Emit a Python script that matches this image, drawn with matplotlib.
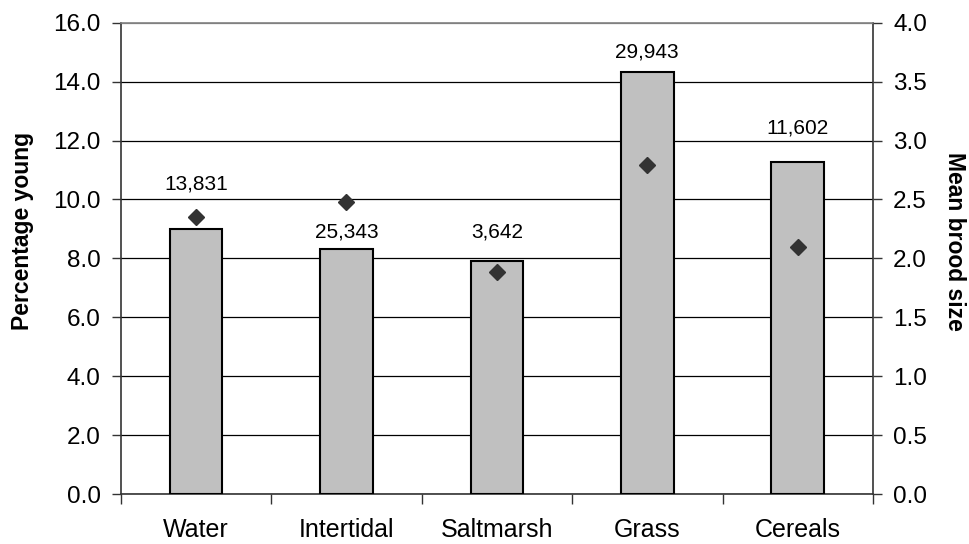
import matplotlib
matplotlib.use("Agg")
import matplotlib.pyplot as plt
import numpy as np

categories = ["Water", "Intertidal", "Saltmarsh", "Grass", "Cereals"]
pct_young = [9.0, 8.33, 7.91, 14.31, 11.28]
brood_size = [2.35, 2.48, 1.88, 2.79, 2.10]
sample_labels = ["13,831", "25,343", "3,642", "29,943", "11,602"]
# label offset above bar top (left-axis units), as placed in the original
label_offsets = [1.52, 0.56, 0.98, 0.69, 1.14]

plt.rcParams['font.family'] = ['Liberation Sans', 'DejaVu Sans']

fig = plt.figure(figsize=(9.7, 5.44), dpi=100)
ax = fig.add_axes([0.1244, 0.0919, 0.9 - 0.1244, 0.9583 - 0.0919])
x = np.arange(len(categories))

ax.bar(x, pct_young, width=0.35, color="#C0C0C0", edgecolor="black", linewidth=1.5, zorder=3)
ax.set_xlim(-0.5, len(categories) - 0.5)
ax.set_ylim(0, 16)
lt = np.arange(0, 16.01, 2)
ax.set_yticks(lt)
ax.set_yticklabels([f"{v:.1f}" for v in lt], fontsize=17.5)
ax.yaxis.grid(True, color="black", linewidth=0.9, zorder=0)
ax.set_axisbelow(True)
gls = ax.get_ygridlines()
gls[-1].set_color("#808080")

ax.set_xticks(x)
ax.set_xticklabels(categories, fontsize=18)
ax.set_xticks(np.arange(-0.5, len(categories)), minor=True)
ax.tick_params(axis="x", which="major", length=0, pad=17)
ax.tick_params(axis="x", which="minor", length=7, width=1, color="#333333")
ax.tick_params(axis="y", length=6.5, width=1, pad=8, color="#333333")
ax.spines["top"].set_color("#808080")
ax.spines["top"].set_linewidth(1.2)
for s in ["left", "bottom", "right"]:
    ax.spines[s].set_color("#333333")
    ax.spines[s].set_linewidth(1.2)
ax.set_ylabel("Percentage young", fontsize=16.5, fontweight="bold", va="center")
ax.yaxis.set_label_coords(-0.13, 0.558)

for xi, v, lab, off in zip(x, pct_young, sample_labels, label_offsets):
    ax.text(xi, v + off, lab, ha="center", va="center", fontsize=15, zorder=5)

ax2 = ax.twinx()
ax2.set_ylim(0, 4)
rt = np.arange(0, 4.01, 0.5)
ax2.set_yticks(rt)
ax2.set_yticklabels([f"{v:.1f}" for v in rt], fontsize=17.5)
ax2.tick_params(axis="y", length=6.5, width=1, pad=8, color="#333333")
ax2.plot(x, brood_size, linestyle="none", marker="D", markersize=8.5,
         color="#333333", zorder=6)
for s in ["left", "bottom", "right", "top"]:
    ax2.spines[s].set_visible(False)
ax2.set_ylabel("Mean brood size", fontsize=16.5, fontweight="bold", rotation=-90,
               va="center")
ax2.yaxis.set_label_coords(1.1077, 0.535)

fig.savefig("out.png", dpi=100)
